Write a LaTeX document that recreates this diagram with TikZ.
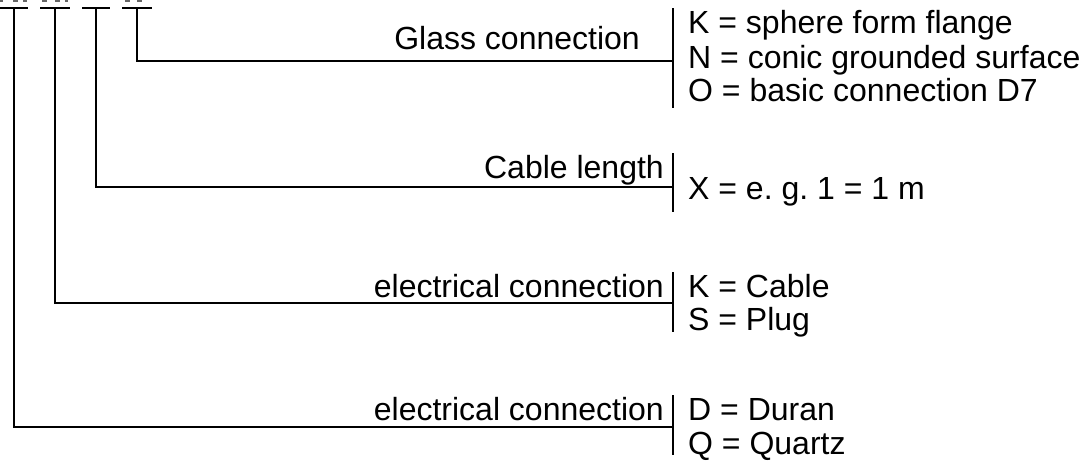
\documentclass[tikz,border=0pt]{standalone}
\usepackage{fontspec}
\setmainfont{Liberation Sans}
\frenchspacing
\begin{document}
\begin{tikzpicture}[x=1pt,y=-1pt,
  wire/.style={line width=2pt,line cap=butt},
  lbl/.style={inner sep=0pt,anchor=base east,font=\fontsize{32}{36}\selectfont},
  item/.style={inner sep=0pt,anchor=base west,font=\fontsize{32}{36}\selectfont},
  clipmark/.style={fill=black!60,draw=none}]
\useasboundingbox (0,0) rectangle (1088,461);
% clipped glyph remnants at the top edge
\foreach \a/\b in {0/3,13/18,23/27,42/47,55/60,65/68,125/130,137/142}
  \fill[clipmark] (\a,0) rectangle (\b,1.6);
% top bars
\coordinate (b1l) at (0,8);   \coordinate (b1r) at (28,8);  \coordinate (t1) at (14,8);
\coordinate (b2l) at (40,8);  \coordinate (b2r) at (70,8);  \coordinate (t2) at (55,8);
\coordinate (b3l) at (82,8);  \coordinate (b3r) at (110,8); \coordinate (t3) at (96,8);
\coordinate (b4l) at (122,8); \coordinate (b4r) at (152,8); \coordinate (t4) at (137,8);
\draw[wire] (b1l) -- (b1r);
\draw[wire] (b2l) -- (b2r);
\draw[wire] (b3l) -- (b3r);
\draw[wire] (b4l) -- (b4r);
% brackets
\coordinate (g1) at (673,8);   \coordinate (g2) at (673,108); \coordinate (gm) at (673,61);
\coordinate (c1) at (673,153); \coordinate (c2) at (673,212); \coordinate (cm) at (673,187);
\coordinate (e1) at (673,272); \coordinate (e2) at (673,332); \coordinate (em) at (673,303);
\coordinate (d1) at (673,395); \coordinate (d2) at (673,455); \coordinate (dm) at (673,427);
\draw[wire] (g1) -- (g2);
\draw[wire] (c1) -- (c2);
\draw[wire] (e1) -- (e2);
\draw[wire] (d1) -- (d2);
% connectors
\draw[wire] (t4) |- (gm);
\draw[wire] (t3) |- (cm);
\draw[wire] (t2) |- (em);
\draw[wire] (t1) |- (dm);
% labels
\node[lbl] (glass) at (640,49) {Glass connection};
\node[item] (gk) at (688,33) {K = sphere form flange};
\node[item] (gn) at (688,68) {N = conic grounded surface};
\node[item] (go) at (688,101) {O = basic connection D7};
\node[lbl] (cable) at (664,178) {Cable length};
\node[item] (cx) at (688,199) {X = e. g. 1 = 1 m};
\node[lbl] (elec1) at (664,297) {electrical connection};
\node[item] (ek) at (688,297) {K = Cable};
\node[item] (es) at (688,330) {S = Plug};
\node[lbl] (elec2) at (664,420) {electrical connection};
\node[item] (dd) at (688,420) {D = Duran};
\node[item] (dq) at (688,454) {Q = Quartz};
\end{tikzpicture}
\end{document}
